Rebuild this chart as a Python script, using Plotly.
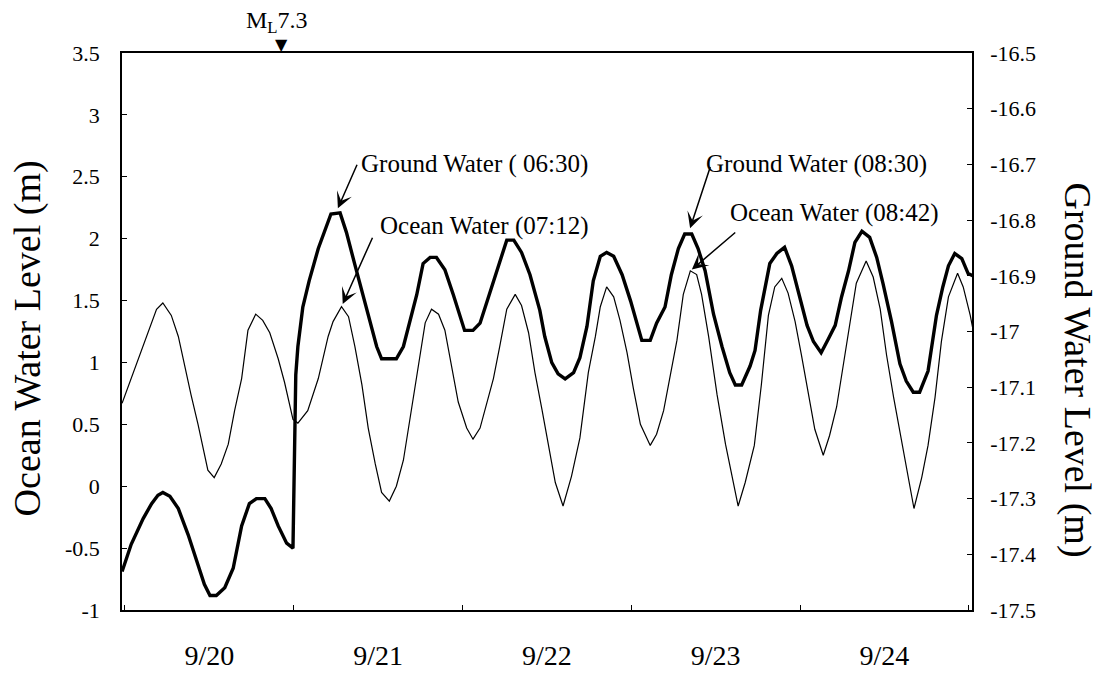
import datetime as dt
import plotly.graph_objects as go

# Time axis origin: hours are counted from 20 Sep 1999 00:00
t0 = dt.datetime(1999, 9, 20)

# Ocean water level (m), left axis
ocean_hours = [-0.4, 0.9, 2.6, 3.8, 4.5, 5.4, 6.6, 7.6, 8.5, 9.4, 10.4, 11.8, 12.7, 13.7, 14.7,
               15.6, 16.6, 17.5, 18.6, 19.6, 20.6, 21.8, 22.7, 23.9, 24.6, 26.0, 27.5, 28.9, 29.6,
               30.8, 31.8, 32.7, 33.7, 34.6, 35.6, 36.5, 37.6, 38.6, 39.6, 40.5, 41.5, 42.7, 43.6,
               44.6, 45.5, 46.5, 47.4, 48.6, 49.5, 50.5, 51.4, 52.4, 53.3, 54.3, 55.5, 56.4, 57.4,
               58.3, 59.3, 60.2, 61.2, 62.3, 63.5, 64.7, 65.9, 66.9, 67.6, 68.5, 69.5, 70.4, 71.4,
               72.3, 73.3, 74.7, 75.6, 76.6, 77.5, 78.5, 79.4, 80.4, 81.3, 82.0, 83.0, 84.2, 85.4,
               86.3, 87.2, 88.2, 89.5, 90.5, 91.5, 92.4, 93.4, 94.3, 95.3, 96.2, 97.2, 98.1, 99.3,
               100.2, 101.2, 102.1, 103.1, 104.0, 105.4, 106.4, 107.4, 108.3, 109.3, 110.2, 111.2,
               112.2, 113.3, 114.2, 115.2, 116.1, 117.1, 118.4, 119.2, 120.2, 121.0]
ocean_level = [0.67, 0.87, 1.13, 1.32, 1.43, 1.48, 1.38, 1.21, 0.97, 0.74, 0.50, 0.13, 0.07, 0.18, 0.34,
               0.61, 0.87, 1.26, 1.39, 1.34, 1.24, 1.03, 0.84, 0.54, 0.51, 0.61, 0.87, 1.21, 1.33,
               1.45, 1.37, 1.13, 0.82, 0.47, 0.18, -0.05, -0.12, 0.00, 0.21, 0.53, 0.92, 1.32, 1.43,
               1.39, 1.26, 0.97, 0.68, 0.47, 0.38, 0.47, 0.66, 0.87, 1.13, 1.43, 1.55, 1.46, 1.24,
               0.92, 0.62, 0.34, 0.03, -0.16, 0.08, 0.39, 0.92, 1.21, 1.45, 1.61, 1.53, 1.34, 1.08,
               0.79, 0.50, 0.33, 0.42, 0.61, 0.87, 1.18, 1.55, 1.74, 1.71, 1.55, 1.21, 0.74, 0.34,
               0.08, -0.16, 0.03, 0.33, 0.82, 1.38, 1.61, 1.68, 1.56, 1.33, 1.06, 0.75, 0.46, 0.25,
               0.41, 0.64, 0.96, 1.33, 1.64, 1.82, 1.69, 1.43, 1.06, 0.72, 0.44, 0.12,
               -0.18, 0.07, 0.33, 0.72, 1.17, 1.53, 1.72, 1.61, 1.38, 1.15]

# Ground water level (m), right axis
ground_hours = [-0.4, 0.9, 2.6, 3.8, 4.7, 5.4, 6.4, 7.6, 9.0, 10.4, 11.3, 12.1, 13.0, 14.2, 15.4,
                16.6, 17.7, 18.7, 19.9, 20.8, 21.8, 23.0, 23.9, 24.3, 24.6, 25.3, 26.2, 27.5, 28.4,
                29.3, 30.6, 31.5, 32.7, 33.9, 34.9, 35.8, 36.5, 38.6, 39.6, 40.5, 41.5, 42.4, 43.4,
                44.3, 45.5, 46.7, 47.6, 48.3, 49.5, 50.5, 51.7, 52.9, 53.8, 54.3, 55.3, 56.4, 57.6,
                59.0, 59.7, 60.7, 61.6, 62.6, 63.8, 64.7, 65.7, 66.6, 67.6, 68.5, 69.5, 70.7, 71.9,
                72.8, 73.5, 74.7, 75.6, 76.8, 77.7, 78.7, 79.6, 80.6, 81.5, 82.5, 83.7, 84.9, 86.0,
                86.8, 87.7, 88.9, 89.6, 90.4, 91.7, 92.7, 93.8, 94.8, 95.8, 97.0, 97.9, 99.0, 100.0,
                101.0, 101.9, 102.9, 103.8, 104.8, 105.9, 106.9, 107.8, 109.0, 110.2, 111.1, 112.1,
                113.0, 114.2, 115.4, 116.3, 117.1, 118.0, 119.0, 119.9, 120.6]
ground_level = [-17.431, -17.382, -17.336, -17.309, -17.294, -17.289, -17.296, -17.318, -17.365,
                -17.418, -17.454, -17.474, -17.474, -17.460, -17.425, -17.349, -17.309, -17.300,
                -17.300, -17.318, -17.349, -17.380, -17.389, -17.078, -17.027, -16.956, -16.909,
                -16.851, -16.822, -16.789, -16.787, -16.822, -16.880, -16.938, -16.985, -17.027,
                -17.049, -17.049, -17.027, -16.980, -16.934, -16.878, -16.867, -16.867, -16.889,
                -16.934, -16.969, -16.998, -16.998, -16.985, -16.938, -16.891, -16.858, -16.836,
                -16.836, -16.858, -16.898, -16.962, -17.009, -17.056, -17.076, -17.085, -17.074,
                -17.047, -16.991, -16.909, -16.865, -16.858, -16.865, -16.898, -16.945, -16.985,
                -17.016, -17.016, -16.985, -16.956, -16.898, -16.851, -16.825, -16.825, -16.851,
                -16.891, -16.969, -17.027, -17.074, -17.096, -17.096, -17.062, -17.034, -16.962,
                -16.878, -16.860, -16.849, -16.882, -16.931, -16.989, -17.018, -17.038, -17.014,
                -16.989, -16.938, -16.891, -16.840, -16.820, -16.831, -16.867, -16.914, -16.982,
                -17.058, -17.089, -17.109, -17.109, -17.071, -16.971, -16.920, -16.882, -16.860,
                -16.869, -16.896, -16.900]

# Axis ticks and ranges
ocean_ticks = [-1, -0.5, 0, 0.5, 1, 1.5, 2, 2.5, 3, 3.5]
ground_ticks = [-17.5, -17.4, -17.3, -17.2, -17.1, -17.0, -16.9, -16.8, -16.7, -16.6, -16.5]
view_hours = [-0.41, 120.45]

# Earthquake marker (M_L 7.3)
quake_hour = 22.2

# Labelled peaks: (hour, level) of each arrow target
gw_peak_1 = (30.0, -16.787)
oc_peak_1 = (30.8, 1.45)
gw_peak_2 = (80.1, -16.825)
oc_peak_2 = (80.4, 1.74)


def to_time(h):
    return t0 + dt.timedelta(hours=h)


def tick_text(v):
    # plain hyphen-minus, as in the printed figure
    return f"{v:g}"


FONT = "Liberation Serif"

fig = go.Figure()
fig.add_trace(go.Scatter(
    x=[to_time(h) for h in ocean_hours], y=ocean_level, mode="lines",
    line=dict(color="black", width=1.2), yaxis="y", showlegend=False))
fig.add_trace(go.Scatter(
    x=[to_time(h) for h in ground_hours], y=ground_level, mode="lines",
    line=dict(color="black", width=3.4), yaxis="y2", showlegend=False))

ann = []
# Earthquake label and downward triangle just above the frame
ann.append(dict(x=to_time(quake_hour), y=1.055, xref="x", yref="paper", xshift=-4,
                text="M<sub>L</sub>7.3", showarrow=False, xanchor="center", yanchor="middle",
                font=dict(family=FONT, size=24, color="black")))
ann.append(dict(x=to_time(quake_hour), y=1.015, xref="x", yref="paper",
                text="▼", showarrow=False, xanchor="center", yanchor="middle",
                font=dict(family="DejaVu Sans", size=16, color="black")))


def arrow(head, tail, yref, standoff):
    return dict(x=to_time(head[0]), y=head[1], xref="x", yref=yref,
                ax=to_time(tail[0]), ay=tail[1], axref="x", ayref=yref,
                text="", showarrow=True, arrowhead=3, arrowsize=1.8, arrowwidth=1.5,
                arrowcolor="black", standoff=standoff)


def label(text, h, v):
    return dict(x=to_time(h), y=v, xref="x", yref="y", text=text, showarrow=False,
                xanchor="left", yanchor="middle",
                font=dict(family=FONT, size=25, color="black"))


ann.append(arrow(gw_peak_1, (33.1, -16.698), "y2", 5))
ann.append(arrow(oc_peak_1, (35.3, 2.02), "y", 3))
ann.append(arrow(gw_peak_2, (83.3, -16.702), "y2", 6))
ann.append(arrow(oc_peak_2, (87.0, 2.06), "y", 2))
ann.append(label("Ground Water ( 06:30)", 33.3, 2.60))
ann.append(label("Ocean Water (07:12)", 35.98, 2.10))
ann.append(label("Ground Water (08:30)", 82.3, 2.60))
ann.append(label("Ocean Water (08:42)", 85.75, 2.21))

# Axis titles
ann.append(dict(x=-0.111, y=0.487, xref="paper", yref="paper", text="Ocean Water Level (m)",
                textangle=-90, showarrow=False, xanchor="center", yanchor="middle",
                font=dict(family=FONT, size=38, color="black")))
ann.append(dict(x=1.1247, y=0.43, xref="paper", yref="paper", text="Ground Water Level (m)",
                textangle=90, showarrow=False, xanchor="center", yanchor="middle",
                font=dict(family=FONT, size=38, color="black")))

fig.update_layout(
    width=1106, height=683,
    margin=dict(l=122, r=134, t=53, b=56),
    paper_bgcolor="white", plot_bgcolor="white",
    font=dict(family=FONT, color="black"),
    annotations=ann,
    xaxis=dict(
        type="date", range=[to_time(view_hours[0]), to_time(view_hours[1])],
        tick0=t0, dtick=86400000, ticklabelmode="period", tickformat="%-m/%-d",
        ticks="inside", ticklen=5, tickwidth=1, tickcolor="black",
        showline=True, linecolor="black", linewidth=1.6, mirror=True,
        showgrid=False, zeroline=False, ticklabelstandoff=20,
        tickfont=dict(family=FONT, size=28, color="black")),
    yaxis=dict(
        range=[ocean_ticks[0], ocean_ticks[-1]],
        tickmode="array", tickvals=ocean_ticks, ticktext=[tick_text(v) for v in ocean_ticks],
        ticks="inside", ticklen=5, tickwidth=1, tickcolor="black",
        showline=True, linecolor="black", linewidth=1.6,
        showgrid=False, zeroline=False, ticklabelstandoff=16,
        tickfont=dict(family=FONT, size=22, color="black")),
    yaxis2=dict(
        range=[ground_ticks[0], ground_ticks[-1]], overlaying="y", side="right",
        tickmode="array", tickvals=ground_ticks, ticktext=[tick_text(v) for v in ground_ticks],
        ticks="inside", ticklen=5, tickwidth=1, tickcolor="black",
        showline=True, linecolor="black", linewidth=1.6,
        showgrid=False, zeroline=False, ticklabelstandoff=12,
        tickfont=dict(family=FONT, size=22, color="black")),
)

fig.write_html("out.html")
